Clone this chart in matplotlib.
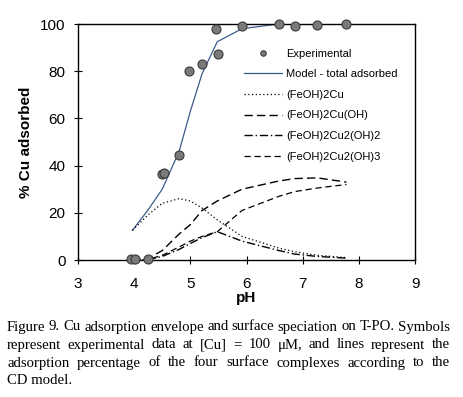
import matplotlib
matplotlib.use("Agg")
import matplotlib.pyplot as plt

plt.rcParams['font.family'] = ['Liberation Sans', 'DejaVu Sans']

# experimental data
ph_exp = [3.95, 4.01, 4.24, 4.49, 4.53, 4.79, 4.97, 5.21, 5.46, 5.50, 5.92, 6.58, 6.86, 7.26, 7.78]
cu_exp = [0.3, 0.3, 0.3, 36.6, 37.0, 44.5, 80.0, 83.0, 98.0, 87.5, 99.3, 100.0, 99.0, 99.5, 100.0]

# model curves
ph_mod = [3.97, 4.24, 4.5, 4.8, 5.0, 5.21, 5.48, 5.92, 6.58, 6.86, 7.26, 7.78]
total = [12.6, 21, 30, 46, 63, 79, 92.5, 98, 100, 100, 100, 100]
feoh2cu = [12.6, 19, 24, 26, 25, 22, 17, 10, 5, 3.5, 2, 1]
feoh2cuoh = [0, 0.5, 4, 11, 15, 21, 25, 30, 33.5, 34.5, 34.8, 33]
feoh2cu2oh2 = [0, 0.1, 1.5, 4.5, 7, 9.5, 12, 8, 4, 2.5, 1.5, 0.8]
feoh2cu2oh3 = [0, 0.2, 2, 5.5, 8, 10, 12, 21, 27, 29, 30.5, 32]

caption = [
    "Figure 9. Cu adsorption envelope and surface speciation on T-PO. Symbols",
    "represent experimental data at [Cu] = 100 \u03bcM, and lines represent the",
    "adsorption percentage of the four surface complexes according to the",
    "CD model.",
]

fig = plt.figure(figsize=(4.63, 3.97), dpi=100)
ax = fig.add_axes([78 / 463, 1 - 260 / 397, 337 / 463, 236 / 397])

ax.plot(ph_exp, cu_exp, 'o', color='#7a7a7a', mec='#3a3a3a', mew=0.8, ms=6.5,
        label='Experimental', zorder=5, clip_on=False)
ax.plot(ph_mod, total, '-', color='#3b5a8c', lw=0.9, label='Model - total adsorbed')
ax.plot(ph_mod, feoh2cu, color='black', lw=0.9, ls=(0, (1, 2)), label='(FeOH)2Cu')
ax.plot(ph_mod, feoh2cuoh, color='black', lw=1.0, ls=(0, (6, 3)), label='(FeOH)2Cu(OH)')
ax.plot(ph_mod, feoh2cu2oh2, color='black', lw=1.0, ls=(0, (6, 2, 1, 2)), label='(FeOH)2Cu2(OH)2')
ax.plot(ph_mod, feoh2cu2oh3, color='black', lw=0.9, ls=(0, (5, 3)), label='(FeOH)2Cu2(OH)3')

ax.set_xlim(3, 9)
ax.set_ylim(0, 100)
ax.set_xticks([3, 4, 5, 6, 7, 8, 9])
ax.set_yticks([0, 20, 40, 60, 80, 100])
ax.tick_params(direction='inout', length=6, width=0.8, labelsize=11)
ax.tick_params(axis='x', pad=9)
ax.tick_params(axis='y', pad=6)
for s in ax.spines.values():
    s.set_linewidth(1.0)
ax.set_xlabel('pH', fontsize=11, fontweight='bold', labelpad=0)
ax.set_ylabel('% Cu adsorbed', fontsize=11, fontweight='bold', labelpad=5)

leg = ax.legend(loc='upper left', bbox_to_anchor=(0.494, 0.895), frameon=False,
                fontsize=8, handlelength=3.4, handletextpad=0.36,
                labelspacing=0.95, markerscale=0.6, borderpad=0, borderaxespad=0)

# justified caption
fig.canvas.draw()
r = fig.canvas.get_renderer()
x0, x1 = 7 / 463, 450 / 463
ys = [327, 345, 363, 381]
for i, line in enumerate(caption):
    y = 1 - ys[i] / 397
    words = line.split(' ')
    if i == len(caption) - 1:
        fig.text(x0, y, line, family='Liberation Serif', fontsize=10.6, va='center')
        continue
    texts = [fig.text(0, y, w, family='Liberation Serif', fontsize=10.6, va='center') for w in words]
    widths = [t.get_window_extent(r).width / fig.bbox.width for t in texts]
    gap = (x1 - x0 - sum(widths)) / (len(words) - 1)
    x = x0
    for t, w in zip(texts, widths):
        t.set_x(x)
        x += w + gap

fig.savefig('out.png', dpi=100)
